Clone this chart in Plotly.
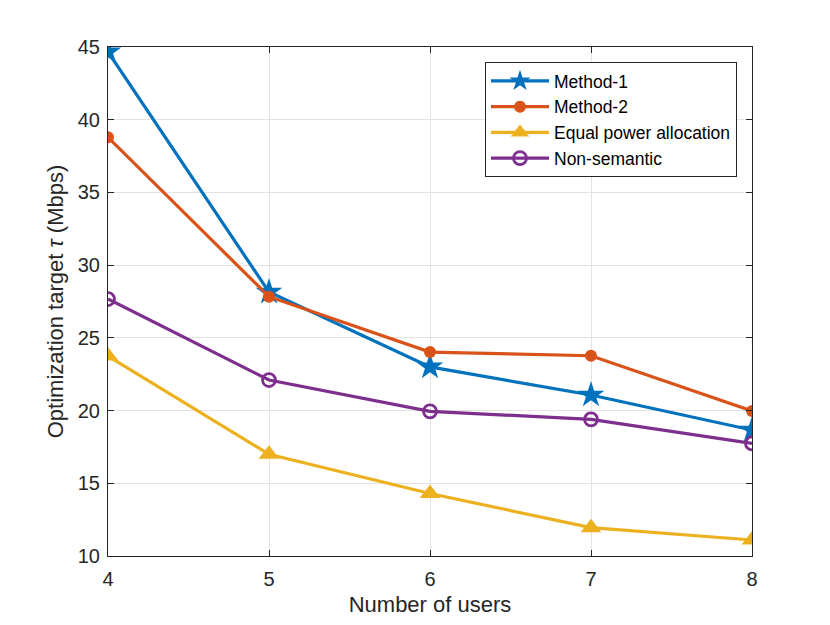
import plotly.graph_objects as go

# number of users
users = [4, 5, 6, 7, 8]

# optimization target tau (Mbps)
method1 = [44.66, 28.15, 23.0, 21.07, 18.66]
method2 = [38.79, 27.83, 24.02, 23.77, 19.97]
equal_power = [23.75, 17.0, 14.3, 11.95, 11.1]
non_semantic = [27.67, 22.1, 19.95, 19.4, 17.74]

y_ticks = [10, 15, 20, 25, 30, 35, 40, 45]

font_col = '#262626'

fig = go.Figure()
fig.add_trace(go.Scatter(x=users, y=method1, name='Method-1', mode='lines+markers',
                         line=dict(color='#0072BD', width=3.2),
                         marker=dict(symbol='star', size=20, color='#0072BD', line=dict(width=0))))
fig.add_trace(go.Scatter(x=users, y=method2, name='Method-2', mode='lines+markers',
                         line=dict(color='#D95319', width=3.2),
                         marker=dict(symbol='circle', size=12, color='#D95319', line=dict(width=0))))
fig.add_trace(go.Scatter(x=users, y=equal_power, name='Equal power allocation', mode='lines+markers',
                         line=dict(color='#EDB120', width=3.2),
                         marker=dict(symbol='triangle-up', size=18, color='#EDB120', line=dict(width=0))))
fig.add_trace(go.Scatter(x=users, y=non_semantic, name='Non-semantic', mode='lines+markers',
                         line=dict(color='#7E2F8E', width=3.2),
                         marker=dict(symbol='circle-open', size=13, color='#7E2F8E', line=dict(width=2.8))))

axis_common = dict(showline=True, mirror='ticks', linecolor=font_col, linewidth=1,
                   ticks='inside', ticklen=6, tickcolor=font_col,
                   showgrid=True, gridcolor='#e3e3e3', gridwidth=1, zeroline=False,
                   tickfont=dict(size=20, color=font_col))

fig.update_xaxes(range=[4, 8], tickvals=users, ticklabelstandoff=5,
                 title=dict(text='Number of users', font=dict(size=22, color=font_col), standoff=7),
                 **axis_common)
fig.update_yaxes(range=[10, 45], tickvals=y_ticks, ticklabelstandoff=3,
                 title=dict(text='Optimization target <i>τ</i> (Mbps)', font=dict(size=22, color=font_col), standoff=8),
                 **axis_common)

# page has an 8px body margin, so margins are shifted accordingly
fig.update_layout(
    width=830, height=625,
    margin=dict(l=100, r=86, t=39, b=77),
    paper_bgcolor='white', plot_bgcolor='white',
    font=dict(family='Liberation Sans, Arial, sans-serif', color=font_col),
    showlegend=True,
    legend=dict(x=0.9767, y=0.9705, xanchor='right', yanchor='top',
                bgcolor='white', bordercolor=font_col, borderwidth=1,
                font=dict(size=17.5, color='black'), itemwidth=58,
                tracegroupgap=0),
)

fig.write_html("out.html")
